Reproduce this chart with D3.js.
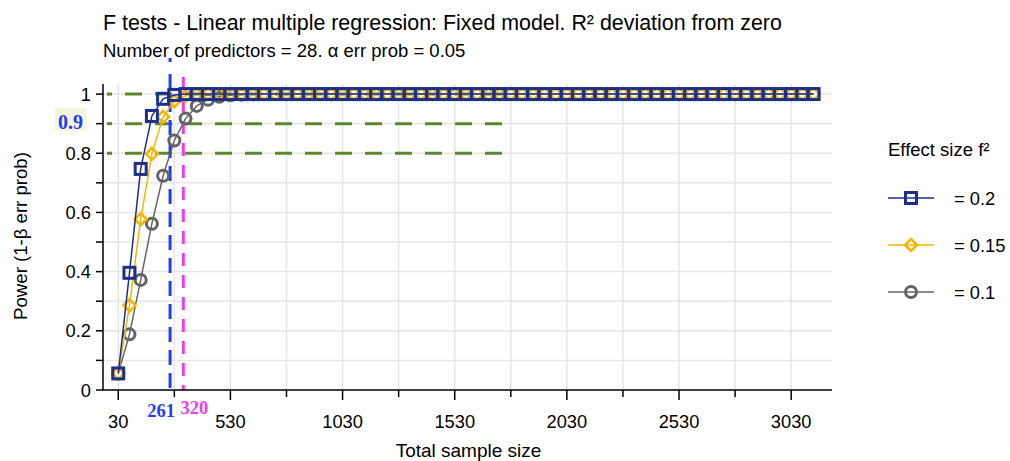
<!DOCTYPE html>
<html>
<head>
<meta charset="utf-8">
<script src="https://cdn.jsdelivr.net/npm/d3@7"></script>
<style>
  body { margin: 0; background: #fff; }
  svg { display: block; font-family: "Liberation Sans", Arial, Helvetica, sans-serif; }
</style>
</head>
<body>
<div id="chart"></div>
<script>
// total sample sizes (every 50 from 30)
const sampleSizes = [30, 80, 130, 180, 230, 280, 330, 380, 430, 480, 530, 580, 630, 680, 730, 780,
  830, 880, 930, 980, 1030, 1080, 1130, 1180, 1230, 1280, 1330, 1380, 1430, 1480, 1530, 1580,
  1630, 1680, 1730, 1780, 1830, 1880, 1930, 1980, 2030, 2080, 2130, 2180, 2230, 2280, 2330, 2380,
  2430, 2480, 2530, 2580, 2630, 2680, 2730, 2780, 2830, 2880, 2930, 2980, 3030, 3080, 3130];

// power
const powerF02 = [0.056, 0.396, 0.747, 0.926, 0.984, 0.997, 1, 1, 1, 1, 1, 1, 1, 1, 1, 1,
  1, 1, 1, 1, 1, 1, 1, 1, 1, 1, 1, 1, 1, 1, 1, 1, 1, 1, 1, 1, 1, 1, 1, 1, 1, 1, 1, 1, 1, 1, 1, 1,
  1, 1, 1, 1, 1, 1, 1, 1, 1, 1, 1, 1, 1, 1, 1];
const powerF015 = [0.056, 0.286, 0.577, 0.798, 0.923, 0.976, 0.994, 0.999, 1, 1, 1, 1, 1, 1, 1, 1,
  1, 1, 1, 1, 1, 1, 1, 1, 1, 1, 1, 1, 1, 1, 1, 1, 1, 1, 1, 1, 1, 1, 1, 1, 1, 1, 1, 1, 1, 1, 1, 1,
  1, 1, 1, 1, 1, 1, 1, 1, 1, 1, 1, 1, 1, 1, 1];
const powerF01 = [0.056, 0.188, 0.372, 0.562, 0.724, 0.843, 0.917, 0.96, 0.981, 0.991, 0.996, 0.998, 0.999, 1, 1, 1,
  1, 1, 1, 1, 1, 1, 1, 1, 1, 1, 1, 1, 1, 1, 1, 1, 1, 1, 1, 1, 1, 1, 1, 1, 1, 1, 1, 1, 1, 1, 1, 1,
  1, 1, 1, 1, 1, 1, 1, 1, 1, 1, 1, 1, 1, 1, 1];

const xTickValues = [30, 530, 1030, 1530, 2030, 2530, 3030];
const xMinorTicks = [280, 780, 1280, 1780, 2280, 2780];
const yTickValues = [0, 0.1, 0.2, 0.3, 0.4, 0.5, 0.6, 0.7, 0.8, 0.9, 1];
const yLabelValues = [0, 0.2, 0.4, 0.6, 0.8, 1];
const powerTargets = [1, 0.9, 0.8];
const requiredN = [{ n: 261, color: "#1f3cff" }, { n: 320, color: "#f03cf0" }];

const series = [
  { label: "= 0.2", values: powerF02, color: "#1c2f8e", shape: "square" },
  { label: "= 0.15", values: powerF015, color: "#f7b500", shape: "diamond" },
  { label: "= 0.1", values: powerF01, color: "#646464", shape: "circle" }
];

const width = 1010, height = 461;
const plotLeft = 103, plotRight = 832, plotTop = 84, plotBottom = 390;

const svg = d3.select("#chart").append("svg")
  .attr("width", width).attr("height", height);

const x = d3.scaleLinear().domain([-38, 3212]).range([plotLeft, plotRight]);
const y = d3.scaleLinear().domain([0, 1.034]).range([plotBottom, plotTop]);

// grid
svg.append("g").selectAll("line")
  .data(xTickValues.concat(xMinorTicks))
  .join("line")
  .attr("x1", d => x(d)).attr("x2", d => x(d))
  .attr("y1", plotTop).attr("y2", plotBottom)
  .attr("stroke", "#e6e6e6").attr("stroke-width", 1.5);
svg.append("g").selectAll("line")
  .data(yTickValues.slice(1))
  .join("line")
  .attr("x1", plotLeft).attr("x2", plotRight)
  .attr("y1", d => y(d)).attr("y2", d => y(d))
  .attr("stroke", "#e6e6e6").attr("stroke-width", 1.5);

// green reference lines
const refs = svg.append("g");
refs.selectAll("line.dot")
  .data(powerTargets)
  .join("line")
  .attr("class", "dot")
  .attr("x1", 107).attr("x2", 112)
  .attr("y1", d => y(d)).attr("y2", d => y(d))
  .attr("stroke", "#5b8a2e").attr("stroke-width", 3);
refs.selectAll("line.dash")
  .data(powerTargets)
  .join("line")
  .attr("class", "dash")
  .attr("x1", 125).attr("x2", 502)
  .attr("y1", d => y(d)).attr("y2", d => y(d))
  .attr("stroke", "#5b8a2e").attr("stroke-width", 3)
  .attr("stroke-dasharray", "17 13");

// vertical required-n lines
const vlines = svg.append("g");
vlines.selectAll("line.v").data(requiredN).join("line").attr("class", "v")
  .attr("x1", d => x(d.n)).attr("x2", d => x(d.n))
  .attr("y1", (d, i) => i === 0 ? 74 : 77).attr("y2", plotBottom)
  .attr("stroke", d => d.color).attr("stroke-width", 3)
  .attr("stroke-dasharray", (d, i) => i === 0 ? "15 8" : "13 9");
vlines.append("line")
  .attr("x1", x(requiredN[0].n)).attr("x2", x(requiredN[0].n))
  .attr("y1", 58).attr("y2", 62)
  .attr("stroke", requiredN[0].color).attr("stroke-width", 3);

// axes
const xAxis = svg.append("g").attr("transform", `translate(0,${plotBottom})`);
xAxis.append("line").attr("x1", plotLeft).attr("x2", plotRight).attr("stroke", "#000").attr("stroke-width", 1.5);
xAxis.selectAll("line.major").data(xTickValues).join("line").attr("class", "major")
  .attr("x1", d => x(d)).attr("x2", d => x(d)).attr("y1", 0).attr("y2", 10)
  .attr("stroke", "#000").attr("stroke-width", 1.5);
xAxis.selectAll("line.minor").data(xMinorTicks).join("line").attr("class", "minor")
  .attr("x1", d => x(d)).attr("x2", d => x(d)).attr("y1", 0).attr("y2", 7)
  .attr("stroke", "#000").attr("stroke-width", 1.5);
xAxis.selectAll("text").data(xTickValues).join("text")
  .attr("x", d => x(d)).attr("y", 38)
  .attr("text-anchor", "middle").attr("font-size", 18.3)
  .text(d => d);

const yAxis = svg.append("g");
yAxis.append("line").attr("x1", plotLeft).attr("x2", plotLeft).attr("y1", plotTop).attr("y2", plotBottom)
  .attr("stroke", "#000").attr("stroke-width", 1.5);
yAxis.selectAll("line.tk").data(yTickValues).join("line").attr("class", "tk")
  .attr("x1", plotLeft - 7).attr("x2", plotLeft).attr("y1", d => y(d)).attr("y2", d => y(d))
  .attr("stroke", "#000").attr("stroke-width", 1.5);
yAxis.selectAll("text").data(yLabelValues).join("text")
  .attr("x", plotLeft - 12).attr("y", d => y(d) + 6.5)
  .attr("text-anchor", "end").attr("font-size", 18.3)
  .text(d => d3.format("~g")(d));

// highlighted 0.9 label
svg.append("rect").attr("x", 55).attr("y", 108).attr("width", 31).attr("height", 23)
  .attr("fill", "#f4f6da");
svg.append("text").attr("x", 70.5).attr("y", y(0.9) + 5).attr("text-anchor", "middle")
  .attr("font-family", "'Liberation Serif', 'DejaVu Serif', serif").attr("font-weight", "bold")
  .attr("font-size", 20).attr("fill", "#1f3cff").text("0.9");

// required n labels
svg.selectAll("text.req").data(requiredN).join("text").attr("class", "req")
  .attr("x", (d, i) => i === 0 ? x(d.n) - 9 : x(d.n) + 11)
  .attr("y", (d, i) => i === 0 ? 417 : 414)
  .attr("text-anchor", "middle")
  .attr("font-family", "'Liberation Serif', 'DejaVu Serif', serif").attr("font-weight", "bold")
  .attr("font-size", 18.5).attr("fill", d => d.color).text(d => d.n);

// series
const line = d3.line().x((d, i) => x(sampleSizes[i])).y(d => y(d));
function marker(sel, shape, color) {
  if (shape === "square") {
    sel.append("rect").attr("x", -5.5).attr("y", -5.5).attr("width", 11).attr("height", 11)
      .attr("fill", "none").attr("stroke", color).attr("stroke-width", 3);
  } else if (shape === "diamond") {
    sel.append("path").attr("d", "M0,-6L6,0L0,6L-6,0Z")
      .attr("fill", "none").attr("stroke", color).attr("stroke-width", 2.5);
  } else {
    sel.append("circle").attr("r", 5.5)
      .attr("fill", "none").attr("stroke", color).attr("stroke-width", 3);
  }
}

series.slice().reverse().forEach(s => {
  const g = svg.append("g");
  g.append("path").datum(s.values).attr("d", line)
    .attr("fill", "none").attr("stroke", s.color).attr("stroke-width", 1.5);
  g.selectAll("g").data(s.values).join("g")
    .attr("transform", (d, i) => `translate(${x(sampleSizes[i])},${y(d)})`)
    .each(function () { marker(d3.select(this), s.shape, s.color); });
});

// titles
svg.append("text").attr("x", plotLeft).attr("y", 30).attr("font-size", 21.4)
  .text("F tests - Linear multiple regression: Fixed model. R² deviation from zero");
svg.append("text").attr("x", plotLeft).attr("y", 56.5).attr("font-size", 18.5)
  .text("Number of predictors = 28. α err prob = 0.05");
svg.append("text").attr("x", (plotLeft + plotRight) / 2 + 1).attr("y", 457).attr("text-anchor", "middle")
  .attr("font-size", 19).text("Total sample size");
svg.append("text").attr("transform", `translate(27,${(plotTop + plotBottom) / 2 - 1}) rotate(-90)`)
  .attr("text-anchor", "middle").attr("font-size", 18.6).text("Power (1-β err prob)");

// legend
const legend = svg.append("g").attr("transform", "translate(888,0)");
legend.append("text").attr("x", 0).attr("y", 156).attr("font-size", 18.5).text("Effect size f²");
series.forEach((s, i) => {
  const ly = 198 + i * 47;
  legend.append("line").attr("x1", 0).attr("x2", 46).attr("y1", ly).attr("y2", ly)
    .attr("stroke", s.color).attr("stroke-width", 1.5);
  marker(legend.append("g").attr("transform", `translate(23,${ly})`), s.shape, s.color);
  legend.append("text").attr("x", 66).attr("y", ly + 6.5).attr("font-size", 18.3).text(s.label);
});
</script>
</body>
</html>
